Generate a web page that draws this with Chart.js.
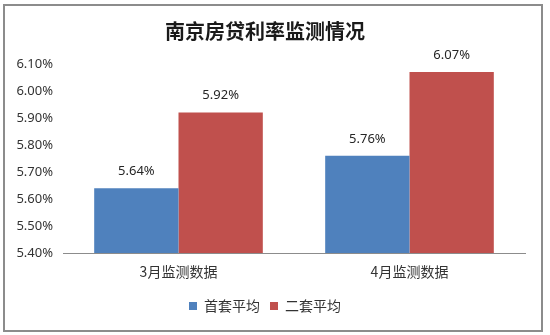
<!DOCTYPE html>
<html>
<head>
<meta charset="utf-8">
<script src="https://cdn.jsdelivr.net/npm/chart.js@4/dist/chart.umd.min.js"></script>
<style>
  body { margin: 0; background: #fff; }
  #box {
    position: absolute; left: 3px; top: 4px;
    width: 536px; height: 324px;
    border: 2px solid #8c8c8c;
    background: #fff;
  }
</style>
</head>
<body>
<div id="box"><canvas id="rateChart" width="536" height="324"></canvas></div>
<script>
// 数据
const categories = ['3月监测数据', '4月监测数据'];
const firstHome = [5.64, 5.76];   // 首套平均
const secondHome = [5.92, 6.07];  // 二套平均
const yMin = 5.4, yMax = 6.1, yStep = 0.1;

const fontFamily = "'Noto Sans', 'Noto Sans CJK SC', sans-serif";

// 柱顶数值标签
const valueLabels = {
    id: 'valueLabels',
    afterDatasetsDraw(chart) {
        const ctx = chart.ctx;
        ctx.save();
        ctx.font = "13px " + fontFamily;
        ctx.fillStyle = '#262626';
        ctx.textAlign = 'center';
        ctx.textBaseline = 'middle';
        chart.data.datasets.forEach((ds, i) => {
            chart.getDatasetMeta(i).data.forEach((bar, j) => {
                ctx.fillText(ds.data[j].toFixed(2) + '%', bar.x, bar.y - 17);
            });
        });
        ctx.restore();
    }
};

const ctx = document.getElementById('rateChart').getContext('2d');
new Chart(ctx, {
    type: 'bar',
    data: {
        labels: categories,
        datasets: [{
            label: '首套平均',
            data: firstHome,
            backgroundColor: '#4F81BD',
            categoryPercentage: 0.73,
            barPercentage: 1.0
        }, {
            label: '二套平均',
            data: secondHome,
            backgroundColor: '#C0504D',
            categoryPercentage: 0.73,
            barPercentage: 1.0
        }]
    },
    options: {
        responsive: false,
        animation: false,
        layout: { padding: { left: 0, right: 16, top: 0, bottom: 7 } },
        plugins: {
            title: {
                display: true,
                text: '南京房贷利率监测情况',
                color: '#1a1a1a',
                font: { family: "'Noto Sans CJK SC', sans-serif", size: 20, weight: 'bold' },
                padding: { top: 13, bottom: 21 }
            },
            legend: {
                position: 'bottom',
                labels: {
                    boxWidth: 8,
                    boxHeight: 8,
                    padding: 10,
                    color: '#333',
                    font: { family: "'Noto Sans CJK SC', sans-serif", size: 14 }
                }
            },
            tooltip: { enabled: false }
        },
        scales: {
            x: {
                grid: { display: false, drawTicks: false },
                border: { display: true, color: '#8c8c8c', width: 1 },
                ticks: {
                    color: '#333',
                    padding: 10,
                    font: { family: "'Noto Sans CJK SC', sans-serif", size: 14 }
                },
                afterFit(scale) { scale.height = 36; }
            },
            y: {
                min: yMin,
                max: yMax,
                grid: { display: false, drawTicks: false },
                border: { display: false },
                ticks: {
                    stepSize: yStep,
                    color: '#333',
                    padding: 10,
                    font: { family: fontFamily, size: 13 },
                    callback: v => v.toFixed(2) + '%'
                },
                afterFit(scale) { scale.width = 58; }
            }
        }
    },
    plugins: [valueLabels]
});
</script>
</body>
</html>
